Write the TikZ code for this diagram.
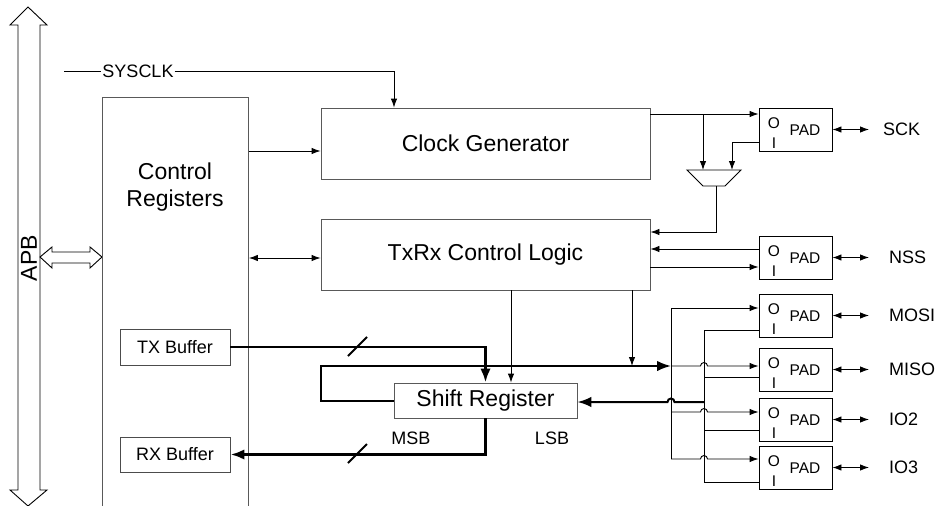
\documentclass[tikz,border=0pt]{standalone}
\usepackage{fontspec}
\setmainfont{Liberation Sans}
\usetikzlibrary{arrows.meta,calc}
\begin{document}
\begin{tikzpicture}[x=1pt,y=-1pt,line join=miter,
  box/.style={draw=black!65,line width=0.9pt,inner sep=0pt,font=\fontsize{23}{27}\selectfont},
  smallbox/.style={draw=black!70,line width=0.9pt,inner sep=0pt,font=\fontsize{18}{21}\selectfont},
  padbox/.style={draw=black,line width=0.9pt,minimum width=73pt,minimum height=43pt,inner sep=0pt},
  lbl/.style={font=\fontsize{18}{21}\selectfont,inner sep=0pt},
  bigtxt/.style={font=\fontsize{23}{27}\selectfont,inner sep=0pt,align=center},
  padtxt/.style={font=\fontsize{15.5}{17}\selectfont,inner sep=0pt},
  wire/.style={line width=0.9pt},
  tip/.style={wire,-{Latex[length=9pt,width=6.5pt]}},
  dtip/.style={wire,{Latex[length=9pt,width=6.5pt]}-{Latex[length=9pt,width=6.5pt]}},
  bus/.style={line width=2.8pt},
  loopbus/.style={line width=2pt},
  btip/.style={-{Latex[length=14pt,width=10.5pt]}},
  hollow/.style={draw=black,line width=0.9pt,fill=white},
]
\useasboundingbox (0,0) rectangle (938,506);
\clip (0,0) rectangle (938,506);

% APB bus
\draw[hollow] (28,7) -- (47,25) -- (40,25) -- (40,490) -- (47,490) -- (28,506) -- (10,490) -- (18,490) -- (18,25) -- (10,25) -- cycle;
\node[bigtxt,rotate=90] (apb) at (29,258) {APB};
\draw[hollow] (40,257) -- (52,247) -- (52,252) -- (90,252) -- (90,247) -- (102,257) -- (90,268) -- (90,263) -- (52,263) -- (52,268) -- cycle;

% Control registers
\node[box,anchor=north west,minimum width=146pt,minimum height=440pt] (cr) at (102,97) {};
\node[bigtxt] (crt) at (175,187) {Control\\Registers};
\node[smallbox,minimum width=110pt,minimum height=36pt] (tx) at (175,347) {TX Buffer};
\node[smallbox,minimum width=110pt,minimum height=35pt] (rx) at (175,454.5) {RX Buffer};

% main blocks
\node[box,minimum width=329pt,minimum height=71pt] (cg) at (485.5,143.5) {Clock Generator};
\node[box,minimum width=329pt,minimum height=71pt] (txrx) at (485.5,254.5) {TxRx Control Logic};
\node[box,minimum width=183pt,minimum height=35pt] (sr) at (485.5,400.5) {Shift Register};
\node[lbl] (msb) at (411,438) {MSB};
\node[lbl] (lsb) at (552,438) {LSB};

% SYSCLK
\coordinate (sysin) at (64,71);
\node[lbl,fill=white,inner sep=1pt] (sys) at (138,71) {SYSCLK};
\draw[wire] (sysin) -- (sys.west);
\draw[tip] (sys.east) -| (cg.north -| 394,0);

% control register links
\draw[tip] (cr.east |- 0,151) -- (cg.west |- 0,151);
\draw[dtip] (cr.east |- 0,258) -- (txrx.west |- 0,258);

% pads
\foreach \n/\t/\lab/\lx in {sck/108/SCK/883, nss/236/NSS/889, mosi/294/MOSI/889, miso/348/MISO/889, iotwo/398/IO2/889, iothree/446/IO3/889}{
  \node[padbox] (\n) at (795.5,\t+21.5) {};
  \node[padtxt] at (774,\t+15) {O};
  \node[padtxt] at (774,\t+35) {I};
  \node[padtxt] at (805,\t+22) {PAD};
  \coordinate (\n ext) at (869,\t+21.5);
  \draw[dtip] (\n.east) -- (\n ext);
  \node[lbl,anchor=west] (\n lab) at (\lx,\t+21.5) {\lab};
}

% clock path and mux
\coordinate (muxa) at (703,170);
\coordinate (muxb) at (732,170);
\coordinate (muxo) at (716,186);
\draw[wire] (687,170) -- (741,170) -- (725,186) -- (703,186) -- cycle;
\draw[tip] (cg.east |- 0,114) -- (sck.west |- 0,114);
\draw[tip] (muxa |- 0,114) -- (muxa);
\draw[tip] (sck.west |- 0,142) -| (muxb);
\draw[tip] (muxo) |- (txrx.east |- 0,232);

% NSS
\draw[tip] (nss.west |- 0,249) -- (txrx.east |- 0,249);
\draw[tip] (txrx.east |- 0,267) -- (nss.west |- 0,267);

% control to shift register
\draw[tip] (txrx.south -| 511,0) -- (sr.north -| 511,0);

% TX / RX buses
\draw[bus,btip] (tx.east) -| (sr.north);
\draw[line width=2pt] (348,356) -- (367,337);
\draw[bus,btip] (sr.south) |- (rx.east);
\draw[line width=2pt] (348,463) -- (367,444);

% serial out loop
\coordinate (obus) at (671,366);
\draw[loopbus,btip] (sr.west) -- (321,400.5) -- (321,366) -- (obus);
\draw[tip] (txrx.south -| 632,0) -- (632,366);

% output bus to pads
\draw[wire] (671,308) -- (671,459);
\draw[tip] (671,308) -- (mosi.west |- 0,308);
\draw[tip] (obus) -- (700.5,366) arc (180:0:3.5pt) -- (miso.west |- 0,366);
\draw[tip] (671,412) -- (700.5,412) arc (180:0:3.5pt) -- (iotwo.west |- 0,412);
\draw[tip] (671,459) -- (700.5,459) arc (180:0:3.5pt) -- (iothree.west |- 0,459);

% input bus from pads
\draw[wire] (704,330) -- (704,482);
\draw[wire] (mosi.west |- 0,330) -- (704,330);
\draw[wire] (miso.west |- 0,377) -- (704,377);
\draw[wire] (iotwo.west |- 0,430) -- (704,430);
\draw[wire] (iothree.west |- 0,482) -- (704,482);
\draw[loopbus,btip] (704,402) -- (674.5,402) arc (0:180:3.5pt) -- (sr.east |- 0,402);
\end{tikzpicture}
\end{document}
